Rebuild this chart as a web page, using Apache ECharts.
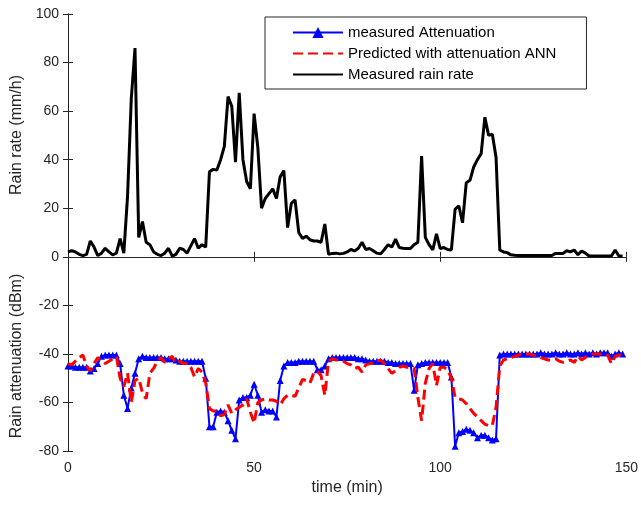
<!DOCTYPE html>
<html>
<head>
<meta charset="utf-8">
<script src="https://cdn.jsdelivr.net/npm/echarts@6/dist/echarts.min.js"></script>
<style>
  html, body { margin: 0; padding: 0; background: #fff; }
  #chart { width: 641px; height: 507px; }
</style>
</head>
<body>
<div id="chart"></div>
<script>
// one sample per minute
const rainRate = [
    2, 2.5, 2, 1, 0.5, 1, 6.5, 4, 0.5, 1.5,
    3.5, 2, 0.8, 1.5, 7.5, 1.5, 25, 65, 86, 8,
    14.5, 6, 5, 2, 1, 0.5, 1.5, 3.5, 0.3, 1,
    3.5, 3, 1.5, 4.5, 7.5, 3.5, 5, 4, 35, 36,
    35.7, 40, 45.5, 66, 62, 39, 67.5, 40, 31, 28,
    59, 45, 20, 24, 26, 28, 24, 33, 35.5, 12,
    22, 23.4, 10, 7.5, 8.5, 7, 6.5, 6.5, 6, 13.5,
    1, 1.4, 1.5, 1.2, 1.4, 2, 3, 2.4, 3.5, 6,
    3, 3.4, 2.5, 1.5, 1.2, 3, 5, 4, 7.3, 3.8,
    3.5, 3.4, 3.4, 5, 6, 41.5, 8, 5, 2.8, 9.4,
    3.4, 3.8, 3, 2.8, 19.5, 21, 14, 30.5, 31.5, 37,
    40, 42.5, 57.5, 50, 50.5, 41, 2.8, 2, 1.7, 0.8,
    0.6, 0.5, 0.5, 0.5, 0.5, 0.5, 0.5, 0.5, 0.5, 0.5,
    0.5, 1.4, 1.4, 1.4, 2.5, 2, 2.8, 0.8, 2.4, 1.5,
    0.3, 0.3, 0.3, 0.3, 0.3, 0.3, 0.3, 2.8, 0.3, 0.3
];

const measuredAtt = [
    -45, -45, -45.5, -45.5, -45.5, -45.5, -47, -46, -44, -41,
    -40.5, -40.5, -40.5, -40.5, -44, -57, -62.5, -54, -48, -42,
    -41, -41.5, -41.5, -41.5, -41.5, -41.5, -42, -42, -42, -42.5,
    -43, -43, -43, -43, -43, -43, -43, -50, -70, -70,
    -64, -63.5, -64, -67.5, -71.5, -75, -59, -58, -58, -57,
    -52.5, -57, -64, -63, -63.5, -63.5, -66, -51, -45, -43.5,
    -43.5, -43.5, -43, -43, -43, -43, -43, -46.5, -46.5, -45,
    -42, -41.5, -41.5, -41.5, -41.5, -41.5, -41.5, -41.5, -42, -42,
    -42.5, -43, -43, -43, -43, -43, -43.5, -43.5, -44, -44,
    -44, -44, -44, -55, -44.5, -44, -43.5, -43.5, -43.5, -43.5,
    -43.5, -43.5, -43.5, -49.5, -78, -72.5, -72, -71, -71.5, -72.5,
    -74.5, -73.5, -73.5, -74.5, -75.5, -75, -40.5, -40, -40, -40,
    -40, -40, -40, -40, -40, -40, -40, -39.5, -40, -40,
    -40, -39.5, -40, -40, -39.5, -40, -40, -39.5, -40, -39.5,
    -40, -39.5, -40, -39.5, -39.5, -39.5, -41, -40, -39.5, -40
];

const predictedAtt = [
    -44, -44.5, -43, -41.5, -40.5, -45, -47, -44, -41.5, -43,
    -44, -43, -42, -41, -50, -53.5, -48, -60, -51, -50,
    -56, -58.5, -48, -46, -43, -41.5, -43.5, -42, -41, -44,
    -43, -44, -44, -45.5, -49.5, -46, -47.5, -52, -62.5, -63.5,
    -63.5, -65.5, -65, -61, -64.5, -63, -62, -61, -58.5, -64,
    -68.5, -60, -59, -58.5, -59, -59, -59.5, -61, -58.5, -57,
    -57, -57.5, -54, -50.5, -51, -52, -48, -47, -49, -57,
    -43, -42, -42.5, -42.5, -43, -44, -44.5, -46, -45.5, -47.5,
    -44.5, -44, -44, -43, -42.5, -44, -46, -48, -47, -45.5,
    -45, -45.5, -45.5, -46, -58, -67.5, -52, -46, -44, -53,
    -45.5, -45.5, -46.5, -50, -58, -58.5, -59, -60.5, -62.5, -64.5,
    -66, -67.5, -69, -69.5, -69.5, -62, -45, -42.5, -42, -41.5,
    -41, -40.5, -40, -40, -40, -40.5, -41, -41.5, -42, -42.5,
    -42.5, -42, -43, -43.5, -43, -42.5, -43.5, -41, -42.5, -41.5,
    -40.5, -40, -40, -40, -40, -40.5, -44, -41, -40.5, -40
];

const seriesNames = ['measured Attenuation', 'Predicted with attenuation ANN', 'Measured rain rate'];

const font = '"Liberation Sans", Arial, sans-serif';
const axisColor = '#262626';

function pairs(vals) {
    return vals.map((v, i) => [i, v]);
}

const chart = echarts.init(document.getElementById('chart'));

const baseAxis = {
    type: 'value',
    axisLine: { show: true, lineStyle: { color: axisColor, width: 1 } },
    axisTick: { show: true, inside: true, length: 5, lineStyle: { color: axisColor } },
    splitLine: { show: false },
    axisLabel: { color: axisColor, fontSize: 14, fontFamily: font }
};

chart.setOption({
    animation: false,
    backgroundColor: '#fff',
    grid: { left: 68, right: 14, top: 14, bottom: 56, containLabel: false },
    xAxis: [
        Object.assign({}, baseAxis, {
            min: 0, max: 150, interval: 50,
            name: 'time (min)', nameLocation: 'middle', nameGap: 29,
            nameTextStyle: { color: axisColor, fontSize: 16, fontFamily: font },
            axisLabel: Object.assign({}, baseAxis.axisLabel, { margin: 10 })
        }),
        Object.assign({}, baseAxis, {
            position: 'top', min: 0, max: 150, interval: 50,
            axisLabel: { show: false }
        })
    ],
    yAxis: [
        Object.assign({}, baseAxis, {
            min: -80, max: 100, interval: 20,
            axisLabel: Object.assign({}, baseAxis.axisLabel, { margin: 9 })
        }),
        Object.assign({}, baseAxis, {
            position: 'right', min: -80, max: 100, interval: 20,
            axisLabel: { show: false }
        })
    ],
    legend: {
        orient: 'vertical',
        left: 265, top: 17,
        padding: [8, 30, 7, 27],
        itemWidth: 50, itemHeight: 14,
        itemGap: 6,
        borderColor: axisColor, borderWidth: 1,
        backgroundColor: '#fff',
        textStyle: { color: '#000', fontSize: 15, fontFamily: font },
        data: [
            { name: seriesNames[0] },
            { name: seriesNames[1], itemStyle: { opacity: 0 } },
            { name: seriesNames[2], itemStyle: { opacity: 0 } }
        ]
    },
    graphic: [
        {
            type: 'text', x: 17, y: 135, rotation: Math.PI / 2,
            style: { text: 'Rain rate (mm/h)', fill: axisColor, font: '16px ' + font, textAlign: 'center', textVerticalAlign: 'middle' }
        },
        {
            type: 'text', x: 17, y: 356, rotation: Math.PI / 2,
            style: { text: 'Rain attenuation (dBm)', fill: axisColor, font: '16px ' + font, textAlign: 'center', textVerticalAlign: 'middle' }
        }
    ],
    series: [
        {
            name: seriesNames[0], type: 'line',
            data: pairs(measuredAtt),
            symbol: 'triangle', symbolSize: 7, showSymbol: true,
            lineStyle: { color: '#0000ff', width: 2 },
            itemStyle: { color: '#0000ff' },
            z: 3
        },
        {
            name: seriesNames[1], type: 'line',
            data: pairs(predictedAtt),
            symbol: 'circle', showSymbol: false,
            lineStyle: { color: '#ff0000', width: 3, type: [10, 5] },
            itemStyle: { color: '#ff0000' },
            z: 4
        },
        {
            name: seriesNames[2], type: 'line',
            data: pairs(rainRate),
            symbol: 'circle', showSymbol: false,
            lineStyle: { color: '#000', width: 3 },
            itemStyle: { color: '#000' },
            z: 2
        }
    ]
});
</script>
</body>
</html>
